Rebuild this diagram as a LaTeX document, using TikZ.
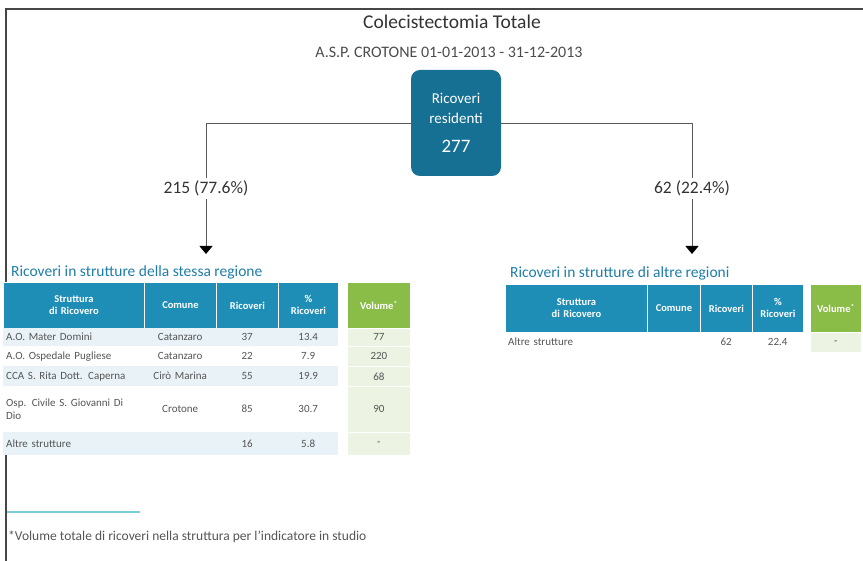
\documentclass[tikz,border=0pt]{standalone}
\usepackage{fontspec}
\setmainfont{Carlito}
\usetikzlibrary{arrows.meta}
\definecolor{boxblue}{RGB}{22,112,148}
\definecolor{hdrblue}{RGB}{30,142,182}
\definecolor{ttlblue}{RGB}{30,125,170}
\definecolor{vgreen}{RGB}{138,188,72}
\definecolor{lgreen}{RGB}{236,243,226}
\definecolor{lblue}{RGB}{232,242,247}
\definecolor{txtgray}{RGB}{85,85,85}
\definecolor{framegray}{RGB}{70,70,70}
\definecolor{fnline}{RGB}{120,205,215}
\newcommand\tcell[8]{%
  \pgfmathsetlengthmacro\cw{(#4-#2)*1pt}%
  \pgfmathsetlengthmacro\ch{(#5-#3)*1pt}%
  \pgfmathsetlengthmacro\tw{(#4-#2)*1pt-6pt}%
  \node[#6, anchor=north west, minimum width=\cw, minimum height=\ch, text width=\tw, align=#7, inner xsep=3pt, inner ysep=0pt] (#1) at (#2,#3) {#8};}
\tikzset{
  hdr/.style={fill=hdrblue, draw=white, line width=0.8pt, text=white, font=\fontsize{10.5}{12}\selectfont\bfseries},
  vhdr/.style={fill=vgreen, draw=white, line width=0.8pt, text=white, font=\fontsize{10.5}{12}\selectfont\bfseries},
  rowA/.style={fill=lblue, text=txtgray, font=\fontsize{11}{13}\selectfont},
  rowB/.style={fill=white, text=txtgray, font=\fontsize{11}{13}\selectfont},
  vrow/.style={fill=lgreen, draw=white, line width=0.8pt, text=txtgray, font=\fontsize{11}{13}\selectfont},
  conn/.style={draw=black!65, line width=0.9pt, -{Triangle[width=13pt,length=8pt,color=black]}},
  lbl/.style={fill=white, text=black!80, font=\fontsize{17.5}{19}\selectfont, inner sep=3pt},
  ttl/.style={anchor=west, text=ttlblue, font=\fontsize{15.5}{17}\selectfont, inner sep=0pt}
}
\begin{document}
\begin{tikzpicture}[x=1pt,y=-1pt]
\useasboundingbox (0,0) rectangle (863,561);
\draw[framegray, line width=2pt] (6,561) -- (6,9) -- (863,9);

\node[text=black!80, font=\fontsize{19.5}{22}\selectfont] (title) at (452,22) {Colecistectomia Totale};
\node[text=black!70, font=\fontsize{16}{18}\selectfont] (sub) at (449,52) {A.S.P. CROTONE 01-01-2013 - 31-12-2013};

\node[fill=boxblue, rounded corners=9pt, minimum width=90pt, minimum height=106pt, text=white, align=center, inner sep=0pt, font=\fontsize{15}{20}\selectfont] (box) at (456,123)
  {Ricoveri\\residenti\\[9pt]{\fontsize{19}{20}\selectfont 277}};

\coordinate (aL) at (206,254);
\coordinate (aR) at (692,254);
\draw[conn] (box.west) -| node[lbl, pos=0.75] (lL) {215 (77.6\%)} (aL);
\draw[conn] (box.east) -| node[lbl, pos=0.75] (lR) {62 (22.4\%)} (aR);

% left table
\node[ttl] (tL) at (11,272) {Ricoveri in strutture della stessa regione};
\tcell{h1}{3}{282}{144}{328}{hdr}{center}{Struttura\\di Ricovero}
\tcell{h2}{144}{282}{216}{328}{hdr}{center}{Comune}
\tcell{h3}{216}{282}{278}{328}{hdr}{center}{Ricoveri}
\tcell{h4}{278}{282}{338}{328}{hdr}{center}{\%\\Ricoveri}
\tcell{h5}{347}{282}{410}{328}{vhdr}{center}{Volume\textsuperscript{*}}

\tcell{a1}{3}{328}{144}{346}{rowA}{left}{A.O. Mater Domini}
\tcell{a2}{144}{328}{216}{346}{rowA}{center}{Catanzaro}
\tcell{a3}{216}{328}{278}{346}{rowA}{center}{37}
\tcell{a4}{278}{328}{338}{346}{rowA}{center}{13.4}
\tcell{a5}{347}{328}{410}{346}{vrow}{center}{77}

\tcell{b1}{3}{346}{144}{366}{rowB}{left}{A.O. Ospedale Pugliese}
\tcell{b2}{144}{346}{216}{366}{rowB}{center}{Catanzaro}
\tcell{b3}{216}{346}{278}{366}{rowB}{center}{22}
\tcell{b4}{278}{346}{338}{366}{rowB}{center}{7.9}
\tcell{b5}{347}{346}{410}{366}{vrow}{center}{220}

\tcell{c1}{3}{366}{144}{386}{rowA}{left}{CCA S. Rita Dott. Caperna}
\tcell{c2}{144}{366}{216}{386}{rowA}{center}{Cirò Marina}
\tcell{c3}{216}{366}{278}{386}{rowA}{center}{55}
\tcell{c4}{278}{366}{338}{386}{rowA}{center}{19.9}
\tcell{c5}{347}{366}{410}{386}{vrow}{center}{68}

\tcell{d1}{3}{386}{144}{432}{rowB}{left}{Osp. Civile S. Giovanni Di\\Dio}
\tcell{d2}{144}{386}{216}{432}{rowB}{center}{Crotone}
\tcell{d3}{216}{386}{278}{432}{rowB}{center}{85}
\tcell{d4}{278}{386}{338}{432}{rowB}{center}{30.7}
\tcell{d5}{347}{386}{410}{432}{vrow}{center}{90}

\tcell{e1}{3}{432}{144}{455}{rowA}{left}{Altre strutture}
\tcell{e2}{144}{432}{216}{455}{rowA}{center}{}
\tcell{e3}{216}{432}{278}{455}{rowA}{center}{16}
\tcell{e4}{278}{432}{338}{455}{rowA}{center}{5.8}
\tcell{e5}{347}{432}{410}{455}{vrow}{center}{-}

% right table
\node[ttl] (tR) at (510,273) {Ricoveri in strutture di altre regioni};
\tcell{k1}{505}{284}{647}{332}{hdr}{center}{Struttura\\di Ricovero}
\tcell{k2}{647}{284}{700}{332}{hdr}{center}{Comune}
\tcell{k3}{700}{284}{752}{332}{hdr}{center}{Ricoveri}
\tcell{k4}{752}{284}{803}{332}{hdr}{center}{\%\\Ricoveri}
\tcell{k5}{810}{284}{861}{332}{vhdr}{center}{Volume\textsuperscript{*}}

\tcell{m1}{505}{332}{647}{352}{rowB}{left}{Altre strutture}
\tcell{m2}{647}{332}{700}{352}{rowB}{center}{}
\tcell{m3}{700}{332}{752}{352}{rowB}{center}{62}
\tcell{m4}{752}{332}{803}{352}{rowB}{center}{22.4}
\tcell{m5}{810}{332}{861}{352}{vrow}{center}{-}

% footnote
\draw[fnline, line width=1.2pt] (7,512) -- (140,512);
\node[anchor=west, text=txtgray, font=\fontsize{13.5}{15}\selectfont, inner sep=1pt] (fn) at (7,537) {*Volume totale di ricoveri nella struttura per l'indicatore in studio};
\end{tikzpicture}
\end{document}
